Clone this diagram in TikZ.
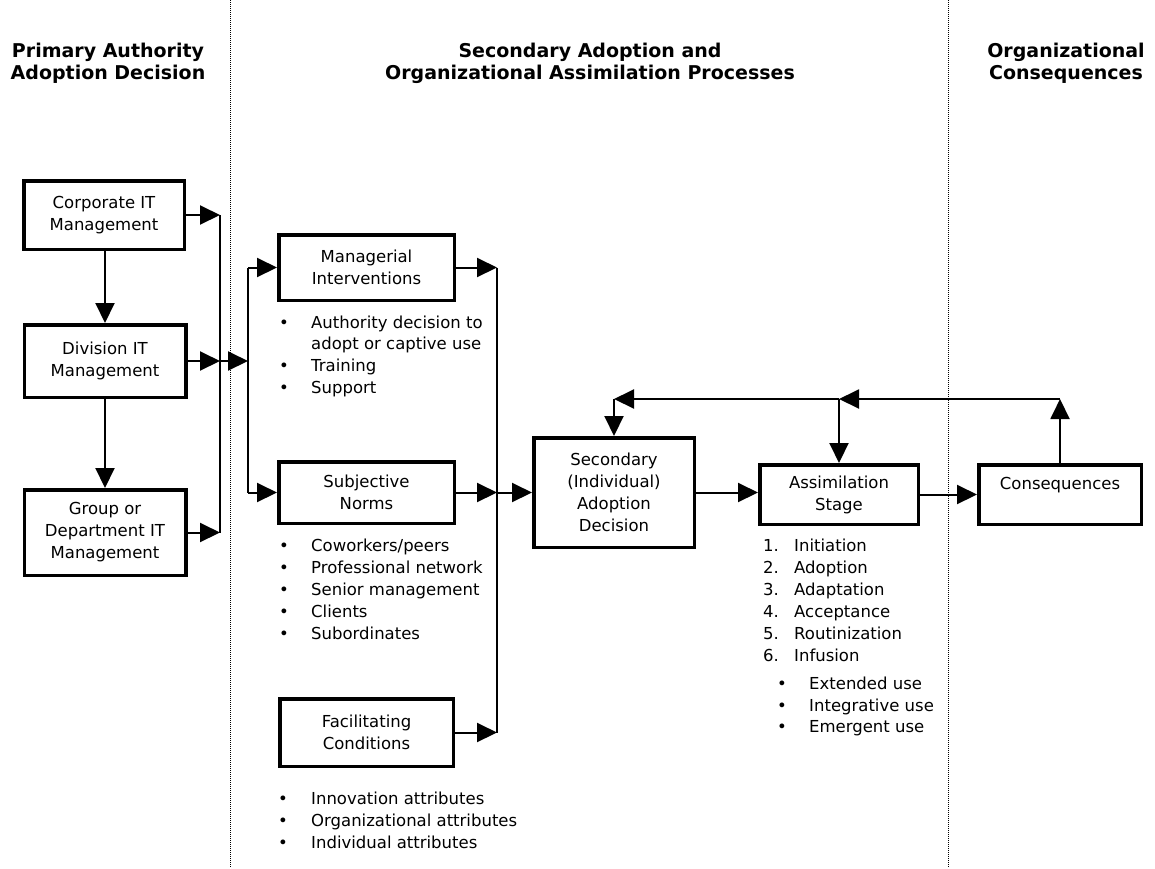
\documentclass[tikz,border=0pt]{standalone}
\usepackage{fontspec}
\setmainfont{DejaVu Sans}
\usetikzlibrary{arrows.meta}
\tikzset{
  txt/.style={font=\fontsize{16.5}{22}\selectfont, inner sep=0pt},
  hdr/.style={font=\bfseries\fontsize{19}{22}\selectfont, align=center, inner sep=0pt},
  box/.style={draw, line width=3.5pt, txt, align=center},
  arr/.style={line width=2pt, -{Triangle[length=20pt,width=19pt]}},
  ln/.style={line width=2pt},
  divider/.style={line width=1pt, dash pattern=on 1pt off 1pt},
  itm/.style={txt, anchor=base west},
  blt/.style={txt, anchor=base},
}
\begin{document}
\begin{tikzpicture}[x=1pt,y=-1pt]
\useasboundingbox (0,0) rectangle (1155,868);

% dividers
\draw[divider] (230,0) -- (230,868);
\draw[divider] (948,0) -- (948,868);

% headers
\node[hdr] (h1) at (108,63) {Primary Authority\\Adoption Decision};
\node[hdr] (h2) at (590,63) {Secondary Adoption and\\Organizational Assimilation Processes};
\node[hdr] (h3) at (1066,63) {Organizational\\Consequences};

% left boxes
\node[box, minimum width=160.5pt, minimum height=68.5pt] (corp) at (104,215) {Corporate IT\\Management};
\node[box, minimum width=161.5pt, minimum height=72.5pt] (div) at (105,361) {Division IT\\Management};
\node[box, minimum width=161.5pt, minimum height=85.5pt] (grp) at (105,532.5) {Group or\\Department IT\\Management};

\draw[arr] (div.north |- corp.south) -- (div.north);
\draw[arr] (div.south) -- (grp.north);

% bus 1
\coordinate (b1) at (220,0);
\draw[arr] (corp.east) -- (corp.east -| b1);
\draw[arr] (div.east) -- (div.east -| b1);
\draw[arr] (grp.east) -- (grp.east -| b1);
\draw[ln] (corp.east -| b1) -- (grp.east -| b1);

% middle boxes
\node[box, minimum width=175.5pt, minimum height=65.5pt] (mgr) at (366.5,267.5) {Managerial\\Interventions};
\node[box, minimum width=175.5pt, minimum height=61.5pt] (subj) at (366.5,492.5) {Subjective\\Norms};
\node[box, minimum width=173.5pt, minimum height=67.5pt] (fac) at (366.5,732.5) {Facilitating\\Conditions};

% bus 2
\coordinate (b2) at (248,0);
\draw[arr] (div.east -| b1) -- (div.east -| b2);
\draw[ln] (mgr.west -| b2) -- (subj.west -| b2);
\draw[arr] (mgr.west -| b2) -- (mgr.west);
\draw[arr] (subj.west -| b2) -- (subj.west);

% bus 3
\coordinate (b3) at (497,0);
\draw[arr] (mgr.east) -- (mgr.east -| b3);
\draw[arr] (subj.east) -- (subj.east -| b3);
\draw[arr] (fac.east) -- (fac.east -| b3);
\draw[ln] (mgr.east -| b3) -- (fac.east -| b3);

% right boxes
\node[box, minimum width=160.5pt, minimum height=109.5pt] (sec) at (614,492.5) {Secondary\\(Individual)\\Adoption\\Decision};
\node[box, minimum width=158.5pt, minimum height=59.5pt] (assim) at (839,494.5) {Assimilation\\Stage};
\node[box, minimum width=162.5pt, minimum height=59.5pt] (cons) at (1060,494.5) {Consequences\\\mbox{}};

\draw[arr] (subj.east -| b3) -- (sec.west);
\draw[arr] (sec.east) -- (sec.east -| assim.west);
\draw[arr] (assim.east) -- (assim.east -| cons.west);

% feedback
\coordinate (fb) at (0,399);
\draw[arr] (cons.north) -- (cons.north |- fb);
\draw[arr] (cons.north |- fb) -- (assim.north |- fb);
\draw[arr] (assim.north |- fb) -- (sec.north |- fb);
\draw[arr] (assim.north |- fb) -- (assim.north);
\draw[arr] (sec.north |- fb) -- (sec.north);

% managerial list
\node[blt] (m1b) at (284,328) {•};
\node[itm] (m1) at (311,328) {Authority decision to};
\node[itm] (m2) at (311,349.5) {adopt or captive use};
\node[blt] (m3b) at (284,371.5) {•};
\node[itm] (m3) at (311,371.5) {Training};
\node[blt] (m4b) at (284,393) {•};
\node[itm] (m4) at (311,393) {Support};

% subjective list
\node[blt] (s1b) at (284,551) {•};
\node[itm] (s1) at (311,551) {Coworkers/peers};
\node[blt] (s2b) at (284,573) {•};
\node[itm] (s2) at (311,573) {Professional network};
\node[blt] (s3b) at (284,595.5) {•};
\node[itm] (s3) at (311,595.5) {Senior management};
\node[blt] (s4b) at (284,617.5) {•};
\node[itm] (s4) at (311,617.5) {Clients};
\node[blt] (s5b) at (284,639.5) {•};
\node[itm] (s5) at (311,639.5) {Subordinates};

% facilitating list
\node[blt] (f1b) at (283,804) {•};
\node[itm] (f1) at (311,804) {Innovation attributes};
\node[blt] (f2b) at (283,826) {•};
\node[itm] (f2) at (311,826) {Organizational attributes};
\node[blt] (f3b) at (283,848) {•};
\node[itm] (f3) at (311,848) {Individual attributes};

% assimilation list
\node[itm] (a1n) at (763,551) {1.};
\node[itm] (a1) at (794,551) {Initiation};
\node[itm] (a2n) at (763,573) {2.};
\node[itm] (a2) at (794,573) {Adoption};
\node[itm] (a3n) at (763,595) {3.};
\node[itm] (a3) at (794,595) {Adaptation};
\node[itm] (a4n) at (763,617) {4.};
\node[itm] (a4) at (794,617) {Acceptance};
\node[itm] (a5n) at (763,639) {5.};
\node[itm] (a5) at (794,639) {Routinization};
\node[itm] (a6n) at (763,661) {6.};
\node[itm] (a6) at (794,661) {Infusion};
\node[blt] (e1b) at (782,689) {•};
\node[itm] (e1) at (809,689) {Extended use};
\node[blt] (e2b) at (782,711) {•};
\node[itm] (e2) at (809,711) {Integrative use};
\node[blt] (e3b) at (782,732) {•};
\node[itm] (e3) at (809,732) {Emergent use};
\end{tikzpicture}
\end{document}
